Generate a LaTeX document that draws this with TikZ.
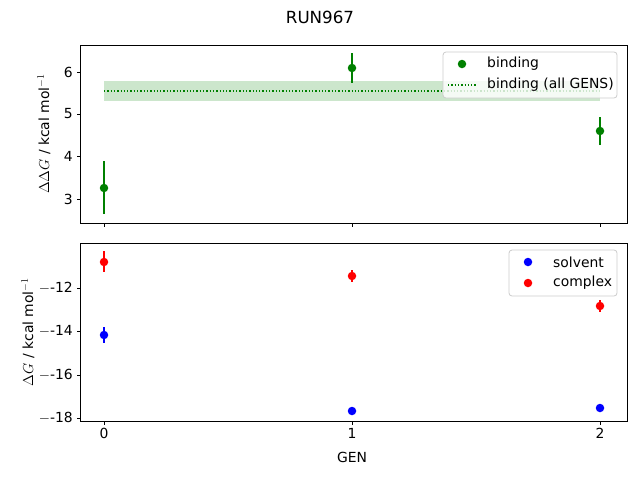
\documentclass[tikz,border=0pt]{standalone}
\usepackage{fontspec}
\setmainfont{DejaVu Sans}
\begin{document}
\begin{tikzpicture}[x=1pt,y=-1pt,font=\fontsize{13.9}{16}\selectfont,
  axisbox/.style={draw=black,line width=0.8pt},
  tick/.style={draw=black,line width=0.8pt},
  eb/.style={line width=1.5pt},
  dot/.style={circle,inner sep=0pt,minimum size=8.5pt},
  lbl/.style={inner sep=1pt},
  legendbox/.style={draw=black!20,fill=white,fill opacity=0.8,rounded corners=3pt,line width=0.8pt}]
\useasboundingbox (0,0) rectangle (640,480);
\node[font=\fontsize{16.7}{19}\selectfont] (title) at (320,17) {RUN967};
% top panel
\fill[green!50!black,opacity=0.2] (104,81) rectangle (600,101);
\draw[green!50!black,dotted,line width=1.3pt] (104,91) -- (600,91);
\foreach \x/\ya/\yb/\y in {104/214/161/188, 352/53/83/68, 600/145/117/131}{
  \draw[eb,green!50!black] (\x,\ya) -- (\x,\yb);
  \node[dot,fill=green!50!black] at (\x,\y) {};
}
\draw[axisbox] (80,45) rectangle (627,223);
\foreach \v/\y in {6/72,5/114,4/156,3/199}{
  \draw[tick] (80,\y) -- (76.5,\y);
  \node[lbl,anchor=east] at (74,\y) {\v};
}
\foreach \x in {104,352,600}{\draw[tick] (\x,223) -- (\x,226.5);}
\node[rotate=90] (ylab1) at (44,134) {$\Delta\Delta G$ / kcal mol$^{-1}$};
\draw[legendbox] (443,52) rectangle (617,98);
\node[dot,fill=green!50!black] (lg1) at (462,64) {};
\node[anchor=west,lbl] at (486,64) {binding};
\draw[green!50!black,dotted,line width=1.3pt] (448,85) -- (476,85);
\node[anchor=west,lbl] at (486,85) {binding (all GENS)};
% bottom panel
\foreach \x/\ya/\yb/\y in {104/327/343/335, 352/411/411/411, 600/408/408/408}{
  \draw[eb,blue] (\x,\ya) -- (\x,\yb);
  \node[dot,fill=blue] at (\x,\y) {};
}
\foreach \x/\ya/\yb/\y in {104/251/272/262, 352/270/282/276, 600/300/312/306}{
  \draw[eb,red] (\x,\ya) -- (\x,\yb);
  \node[dot,fill=red] at (\x,\y) {};
}
\draw[axisbox] (80,243) rectangle (627,421);
\foreach \v/\y in {-12/288,-14/331.5,-16/375,-18/418}{
  \draw[tick] (80,\y) -- (76.5,\y);
  \node[lbl,anchor=east] at (74,\y) {$-$\v};
}
\foreach \v/\x in {0/104,1/352,2/600}{
  \draw[tick] (\x,421) -- (\x,424.5);
  \node[lbl,anchor=north] at (\x,427) {\v};
}
\node (xlab) at (352,457) {GEN};
\node[rotate=90] (ylab2) at (28,332) {$\Delta G$ / kcal mol$^{-1}$};
\draw[legendbox] (509,250) rectangle (617,296);
\node[dot,fill=blue] (lg2) at (528,262) {};
\node[anchor=west,lbl] at (552,262) {solvent};
\node[dot,fill=red] (lg3) at (528,283) {};
\node[anchor=west,lbl] at (552,283) {complex};
\end{tikzpicture}
\end{document}
